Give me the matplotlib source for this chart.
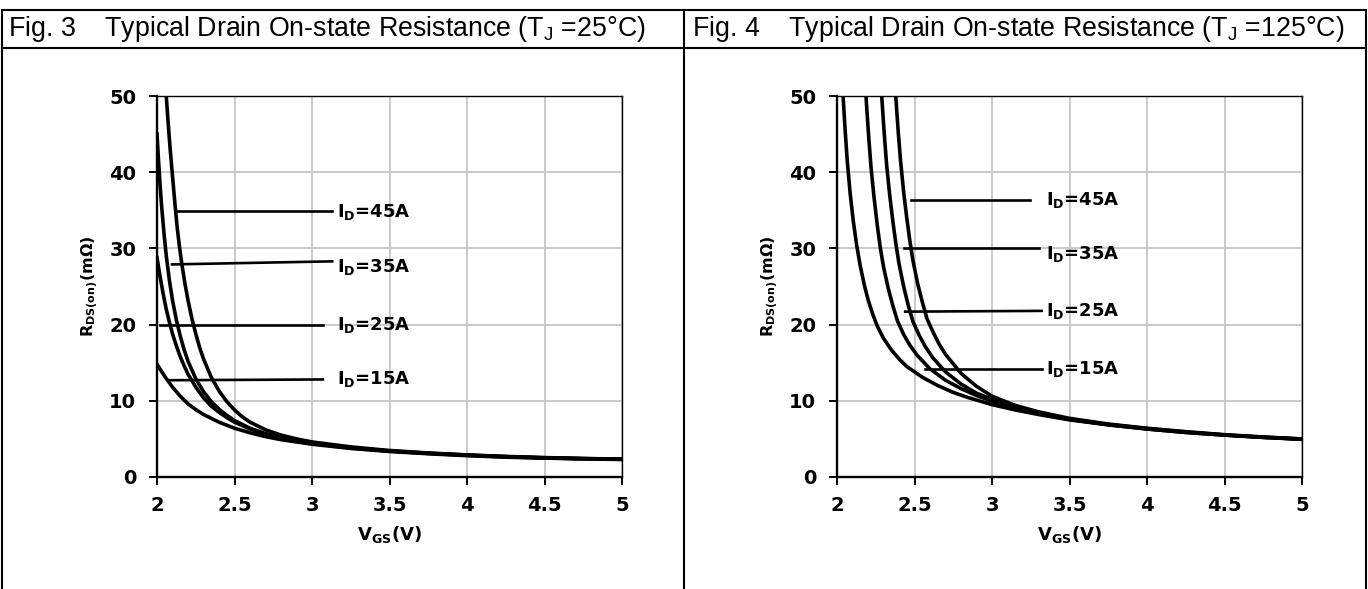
import matplotlib
matplotlib.use('Agg')
import matplotlib.pyplot as plt
from matplotlib.lines import Line2D

plt.rcParams['font.family'] = 'DejaVu Sans'
plt.rcParams['font.weight'] = 'bold'
plt.rcParams['mathtext.fontset'] = 'custom'
plt.rcParams['mathtext.rm'] = 'Liberation Sans:weight=normal'
plt.rcParams['mathtext.bf'] = 'DejaVu Sans:weight=bold'

# Fig. 3 : TJ = 25 C, RDS(on) (mOhm) vs VGS (V)
v25_15 = [2.0, 2.05, 2.1, 2.15, 2.2, 2.25, 2.3, 2.35, 2.4, 2.45, 2.5, 2.6, 2.7, 2.8, 2.9, 3.0,
          3.25, 3.5, 3.75, 4.0, 4.25, 4.5, 4.75, 5.0]
r25_15 = [14.8, 13.2, 11.8, 10.6, 9.6, 8.85, 8.2, 7.7, 7.2, 6.8, 6.4, 5.8, 5.3, 4.9, 4.6, 4.3,
          3.75, 3.35, 3.05, 2.8, 2.6, 2.48, 2.38, 2.3]
v25_25 = [2.0, 2.02, 2.04, 2.06, 2.08, 2.1, 2.125, 2.15, 2.175, 2.2, 2.25, 2.3, 2.35, 2.4, 2.45,
          2.5, 2.6, 2.7, 2.8, 2.9, 3.0, 3.25, 3.5, 3.75, 4.0, 4.25, 4.5, 4.75, 5.0]
r25_25 = [28.8, 26.3, 24.0, 22.0, 20.3, 18.8, 17.2, 15.8, 14.6, 13.5, 11.8, 10.4, 9.3, 8.5, 7.8,
          7.2, 6.3, 5.6, 5.1, 4.7, 4.4, 3.8, 3.4, 3.1, 2.85, 2.65, 2.5, 2.4, 2.32]
v25_35 = [2.0, 2.01, 2.02, 2.03, 2.045, 2.06, 2.08, 2.1, 2.125, 2.15, 2.175, 2.2, 2.25, 2.3, 2.35,
          2.4, 2.45, 2.5, 2.6, 2.7, 2.8, 2.9, 3.0, 3.25, 3.5, 3.75, 4.0, 4.25, 4.5, 4.75, 5.0]
r25_35 = [45.0, 41.5, 38.3, 35.5, 32.0, 29.0, 25.8, 23.2, 20.6, 18.5, 16.7, 15.2, 12.9, 11.2, 9.9,
          8.9, 8.1, 7.4, 6.4, 5.7, 5.2, 4.8, 4.45, 3.85, 3.42, 3.12, 2.87, 2.67, 2.52, 2.41, 2.33]
v25_45 = [2.04, 2.05, 2.058, 2.07, 2.085, 2.1, 2.116, 2.13, 2.145, 2.16, 2.18, 2.2, 2.225, 2.25,
          2.275, 2.3, 2.35, 2.4, 2.45, 2.5, 2.55, 2.6, 2.7, 2.8, 2.9, 3.0, 3.25, 3.5, 3.75, 4.0,
          4.25, 4.5, 4.75, 5.0]
r25_45 = [57.0, 53.3, 50.5, 47.0, 43.0, 39.5, 35.8, 32.8, 30.2, 28.0, 25.4, 23.2, 20.8, 18.8,
          17.0, 15.5, 13.1, 11.3, 9.9, 8.8, 7.9, 7.2, 6.2, 5.5, 5.0, 4.6, 3.95, 3.48, 3.15, 2.9,
          2.7, 2.55, 2.43, 2.35]

# Fig. 4 : TJ = 125 C
v125_15 = [2.02, 2.035, 2.05, 2.066, 2.085, 2.105, 2.127, 2.15, 2.175, 2.2, 2.23, 2.26, 2.3,
           2.35, 2.4, 2.45, 2.55, 2.65, 2.75, 2.85, 3.0, 3.15, 3.3, 3.5, 3.75, 4.0, 4.25, 4.5,
           4.75, 5.0]
r125_15 = [58.0, 51.5, 46.3, 41.5, 37.2, 33.6, 30.4, 27.7, 25.3, 23.3, 21.4, 19.8, 18.2,
           16.7, 15.5, 14.5, 13.1, 12.0, 11.1, 10.4, 9.5, 8.8, 8.2, 7.5, 6.85, 6.3, 5.85, 5.5,
           5.2, 4.95]
v125_25 = [2.17, 2.18, 2.19, 2.205, 2.22, 2.24, 2.26, 2.28, 2.3, 2.33, 2.36, 2.39, 2.43, 2.47,
           2.52, 2.6, 2.7, 2.8, 2.9, 3.0, 3.15, 3.3, 3.5, 3.75, 4.0, 4.25, 4.5, 4.75, 5.0]
r125_25 = [57.0, 52.5, 49.0, 44.5, 40.5, 36.5, 33.0, 30.0, 27.6, 24.8, 22.5, 20.5, 18.7, 17.3,
           15.9, 14.2, 12.7, 11.6, 10.7, 9.95, 9.05, 8.3, 7.55, 6.85, 6.3, 5.85, 5.5, 5.2, 4.95]
v125_35 = [2.27, 2.28, 2.29, 2.305, 2.32, 2.34, 2.36, 2.38, 2.4, 2.43, 2.46, 2.49, 2.53, 2.57,
           2.62, 2.7, 2.8, 2.9, 3.0, 3.15, 3.3, 3.5, 3.75, 4.0, 4.25, 4.5, 4.75, 5.0]
r125_35 = [57.0, 53.0, 49.5, 45.0, 41.0, 37.0, 33.6, 30.6, 28.0, 25.0, 22.5, 20.4, 18.6, 17.1,
           15.6, 13.8, 12.2, 11.0, 10.2, 9.2, 8.4, 7.6, 6.9, 6.35, 5.9, 5.52, 5.22, 4.98]
v125_45 = [2.36, 2.37, 2.38, 2.395, 2.41, 2.43, 2.45, 2.47, 2.49, 2.52, 2.55, 2.58, 2.62, 2.66,
           2.7, 2.8, 2.9, 3.0, 3.15, 3.3, 3.5, 3.75, 4.0, 4.25, 4.5, 4.75, 5.0]
r125_45 = [57.0, 53.0, 49.7, 45.3, 41.5, 37.4, 34.0, 31.0, 28.4, 25.4, 23.0, 20.8, 19.0, 17.4,
           16.1, 13.6, 11.9, 10.6, 9.4, 8.55, 7.7, 6.95, 6.4, 5.95, 5.55, 5.25, 5.0]

currents = ['45A', '35A', '25A', '15A']

# leader lines: start V, end V, start R, end R, label position
lead25_v0 = [2.116, 2.097, 2.02, 2.07]
lead25_v1 = [3.13, 3.13, 3.07, 3.07]
lead25_r0 = [34.9, 27.9, 19.9, 12.7]
lead25_r1 = [34.9, 28.3, 19.9, 12.8]
text25_v = [3.16, 3.16, 3.16, 3.16]
text25_r = [34.8, 27.6, 20.0, 12.8]

lead125_v0 = [2.48, 2.43, 2.44, 2.57]
lead125_v1 = [3.245, 3.30, 3.32, 3.32]
lead125_r0 = [36.4, 30.1, 21.7, 14.2]
lead125_r1 = [36.4, 30.1, 21.8, 14.2]
text125_v = [3.35, 3.35, 3.35, 3.35]
text125_r = [36.4, 29.3, 21.8, 14.2]

xticks = [2, 2.5, 3, 3.5, 4, 4.5, 5]
xtick_labels = ['2', '2.5', '3', '3.5', '4', '4.5', '5']
yticks = [0, 10, 20, 30, 40, 50]

titles = [r'Fig. 3    Typical Drain On-state Resistance ($\mathrm{T_J}$ =25°C)',
          r'Fig. 4    Typical Drain On-state Resistance ($\mathrm{T_J}$ =125°C)']

fig = plt.figure(figsize=(13.68, 5.89), dpi=100)

W, H = 1368.0, 589.0
ax1 = fig.add_axes([157 / W, 1 - 477 / H, 465 / W, 381 / H])
ax2 = fig.add_axes([837 / W, 1 - 477 / H, 465 / W, 381 / H])

panels = [
    (ax1, [(v25_45, r25_45), (v25_35, r25_35), (v25_25, r25_25), (v25_15, r25_15)],
     lead25_v0, lead25_v1, lead25_r0, lead25_r1, text25_v, text25_r),
    (ax2, [(v125_45, r125_45), (v125_35, r125_35), (v125_25, r125_25), (v125_15, r125_15)],
     lead125_v0, lead125_v1, lead125_r0, lead125_r1, text125_v, text125_r),
]

for ax, curves, lv0, lv1, lr0, lr1, tv, tr in panels:
    for v, r in curves:
        ax.plot(v, r, color='black', lw=2.6, solid_joinstyle='round')
    for i, cur in enumerate(currents):
        ax.plot([lv0[i], lv1[i]], [lr0[i], lr1[i]], color='black', lw=1.9)
        ax.text(tv[i], tr[i], r'$\mathbf{I_D}$=' + cur, fontsize=13,
                fontweight='bold', ha='left', va='center')
    ax.set_xlim(2, 5)
    ax.set_ylim(0, 50)
    ax.set_xticks(xticks)
    ax.set_xticklabels(xtick_labels)
    ax.set_yticks(yticks)
    ax.grid(True, color='#c6c6c6', lw=1.3)
    ax.set_axisbelow(True)
    for s in ['left', 'bottom']:
        ax.spines[s].set_linewidth(1.7)
    for s in ['top', 'right']:
        ax.spines[s].set_linewidth(1.0)
    ax.tick_params(direction='out', length=6, width=1.4, labelsize=14, pad=8)
    ax.tick_params(axis='y', pad=9)
    ax.set_xlabel(r'$\mathbf{V_{GS}}$(V)', fontsize=13, fontweight='bold', labelpad=6)
    ax.set_ylabel(r'$\mathbf{R_{DS(on)}}$(m$\mathbf{\Omega}$)', fontsize=11.5,
                  fontweight='bold', labelpad=6)

# table frame around the two figures
frame = [((2, 2), (10, 589)), ((1366, 1366), (10, 589)), ((684, 684), (10, 589)),
         ((2, 1366), (10, 10)), ((2, 1366), (48, 48))]
for xs, ys in frame:
    fig.add_artist(Line2D([x / W for x in xs], [1 - y / H for y in ys],
                          transform=fig.transFigure, color='black', lw=1.5))

fig.text(8 / W, 1 - 29 / H, titles[0], fontsize=19.3, fontweight='normal',
         family='Liberation Sans', ha='left', va='center')
fig.text(692 / W, 1 - 29 / H, titles[1], fontsize=19.3, fontweight='normal',
         family='Liberation Sans', ha='left', va='center')

fig.savefig('out.png', dpi=100)
